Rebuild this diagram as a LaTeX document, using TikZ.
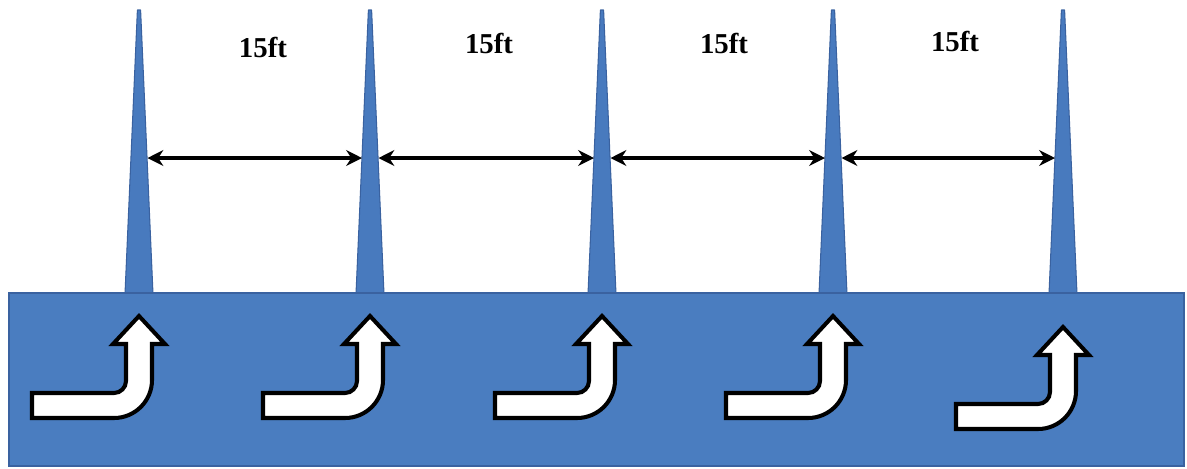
\documentclass[tikz,border=0pt]{standalone}
\usepackage{fontspec}
\setmainfont{Liberation Serif}
\usetikzlibrary{arrows.meta}
\definecolor{boxblue}{RGB}{74,125,192}
\definecolor{boxedge}{RGB}{58,98,160}
\definecolor{spikeblue}{RGB}{72,122,190}
\tikzset{
  spikefill/.style={fill=spikeblue, draw=boxedge, line width=0.6pt, line join=round},
  basebox/.style={fill=boxblue, draw=boxedge, line width=1.3pt},
  dimline/.style={line width=2.2pt, {Stealth[length=9pt,width=9pt]}-{Stealth[length=9pt,width=9pt]}},
  dimlabel/.style={font=\bfseries\fontsize{16.4}{18}\selectfont, inner sep=0pt},
  bentstyle/.style={fill=white, draw=black, line width=2.3pt, line join=miter},
  bentarrow/.pic={
    \draw[bentstyle] (0,0) -- (26,28) -- (13,28) -- (13,64)
      .. controls (13,85) and (-4,102) .. (-25,102)
      -- (-107,102) -- (-107,77) -- (-25,77)
      .. controls (-18.4,77) and (-13,71.6) .. (-13,65)
      -- (-13,28) -- (-26,28) -- cycle;
  }
}
\begin{document}
\begin{tikzpicture}[x=0.02cm, y=-0.02cm]
\useasboundingbox (0,0) rectangle (1187,468);
% spikes
\foreach \n/\sx in {1/139, 2/370, 3/602, 4/833, 5/1063}{
  \fill[spikefill] (\sx-14,294) -- (\sx-1.6,10) -- (\sx+1.6,10) -- (\sx+14,294) -- cycle;
  \coordinate (L\n) at (\sx-8,158);
  \coordinate (R\n) at (\sx+8.5,158);
}
% base box
\node[basebox, minimum width=1175*0.02cm, minimum height=173*0.02cm, anchor=north west, inner sep=0pt] (base) at (8,292) {};
% dimension arrows
\draw[dimline] (R1) -- (L2);
\draw[dimline] (R2) -- (L3);
\draw[dimline] (R3) -- (L4);
\draw[dimline] (R4) -- (L5);
% labels
\node[dimlabel] (t1) at (263,47) {15ft};
\node[dimlabel] (t2) at (489,43) {15ft};
\node[dimlabel] (t3) at (724,43) {15ft};
\node[dimlabel] (t4) at (955,41) {15ft};
% bent arrows
\pic at (139,316) {bentarrow};
\pic at (370,316) {bentarrow};
\pic at (602,316) {bentarrow};
\pic at (833,316) {bentarrow};
\pic at (1063,327) {bentarrow};
\end{tikzpicture}
\end{document}
